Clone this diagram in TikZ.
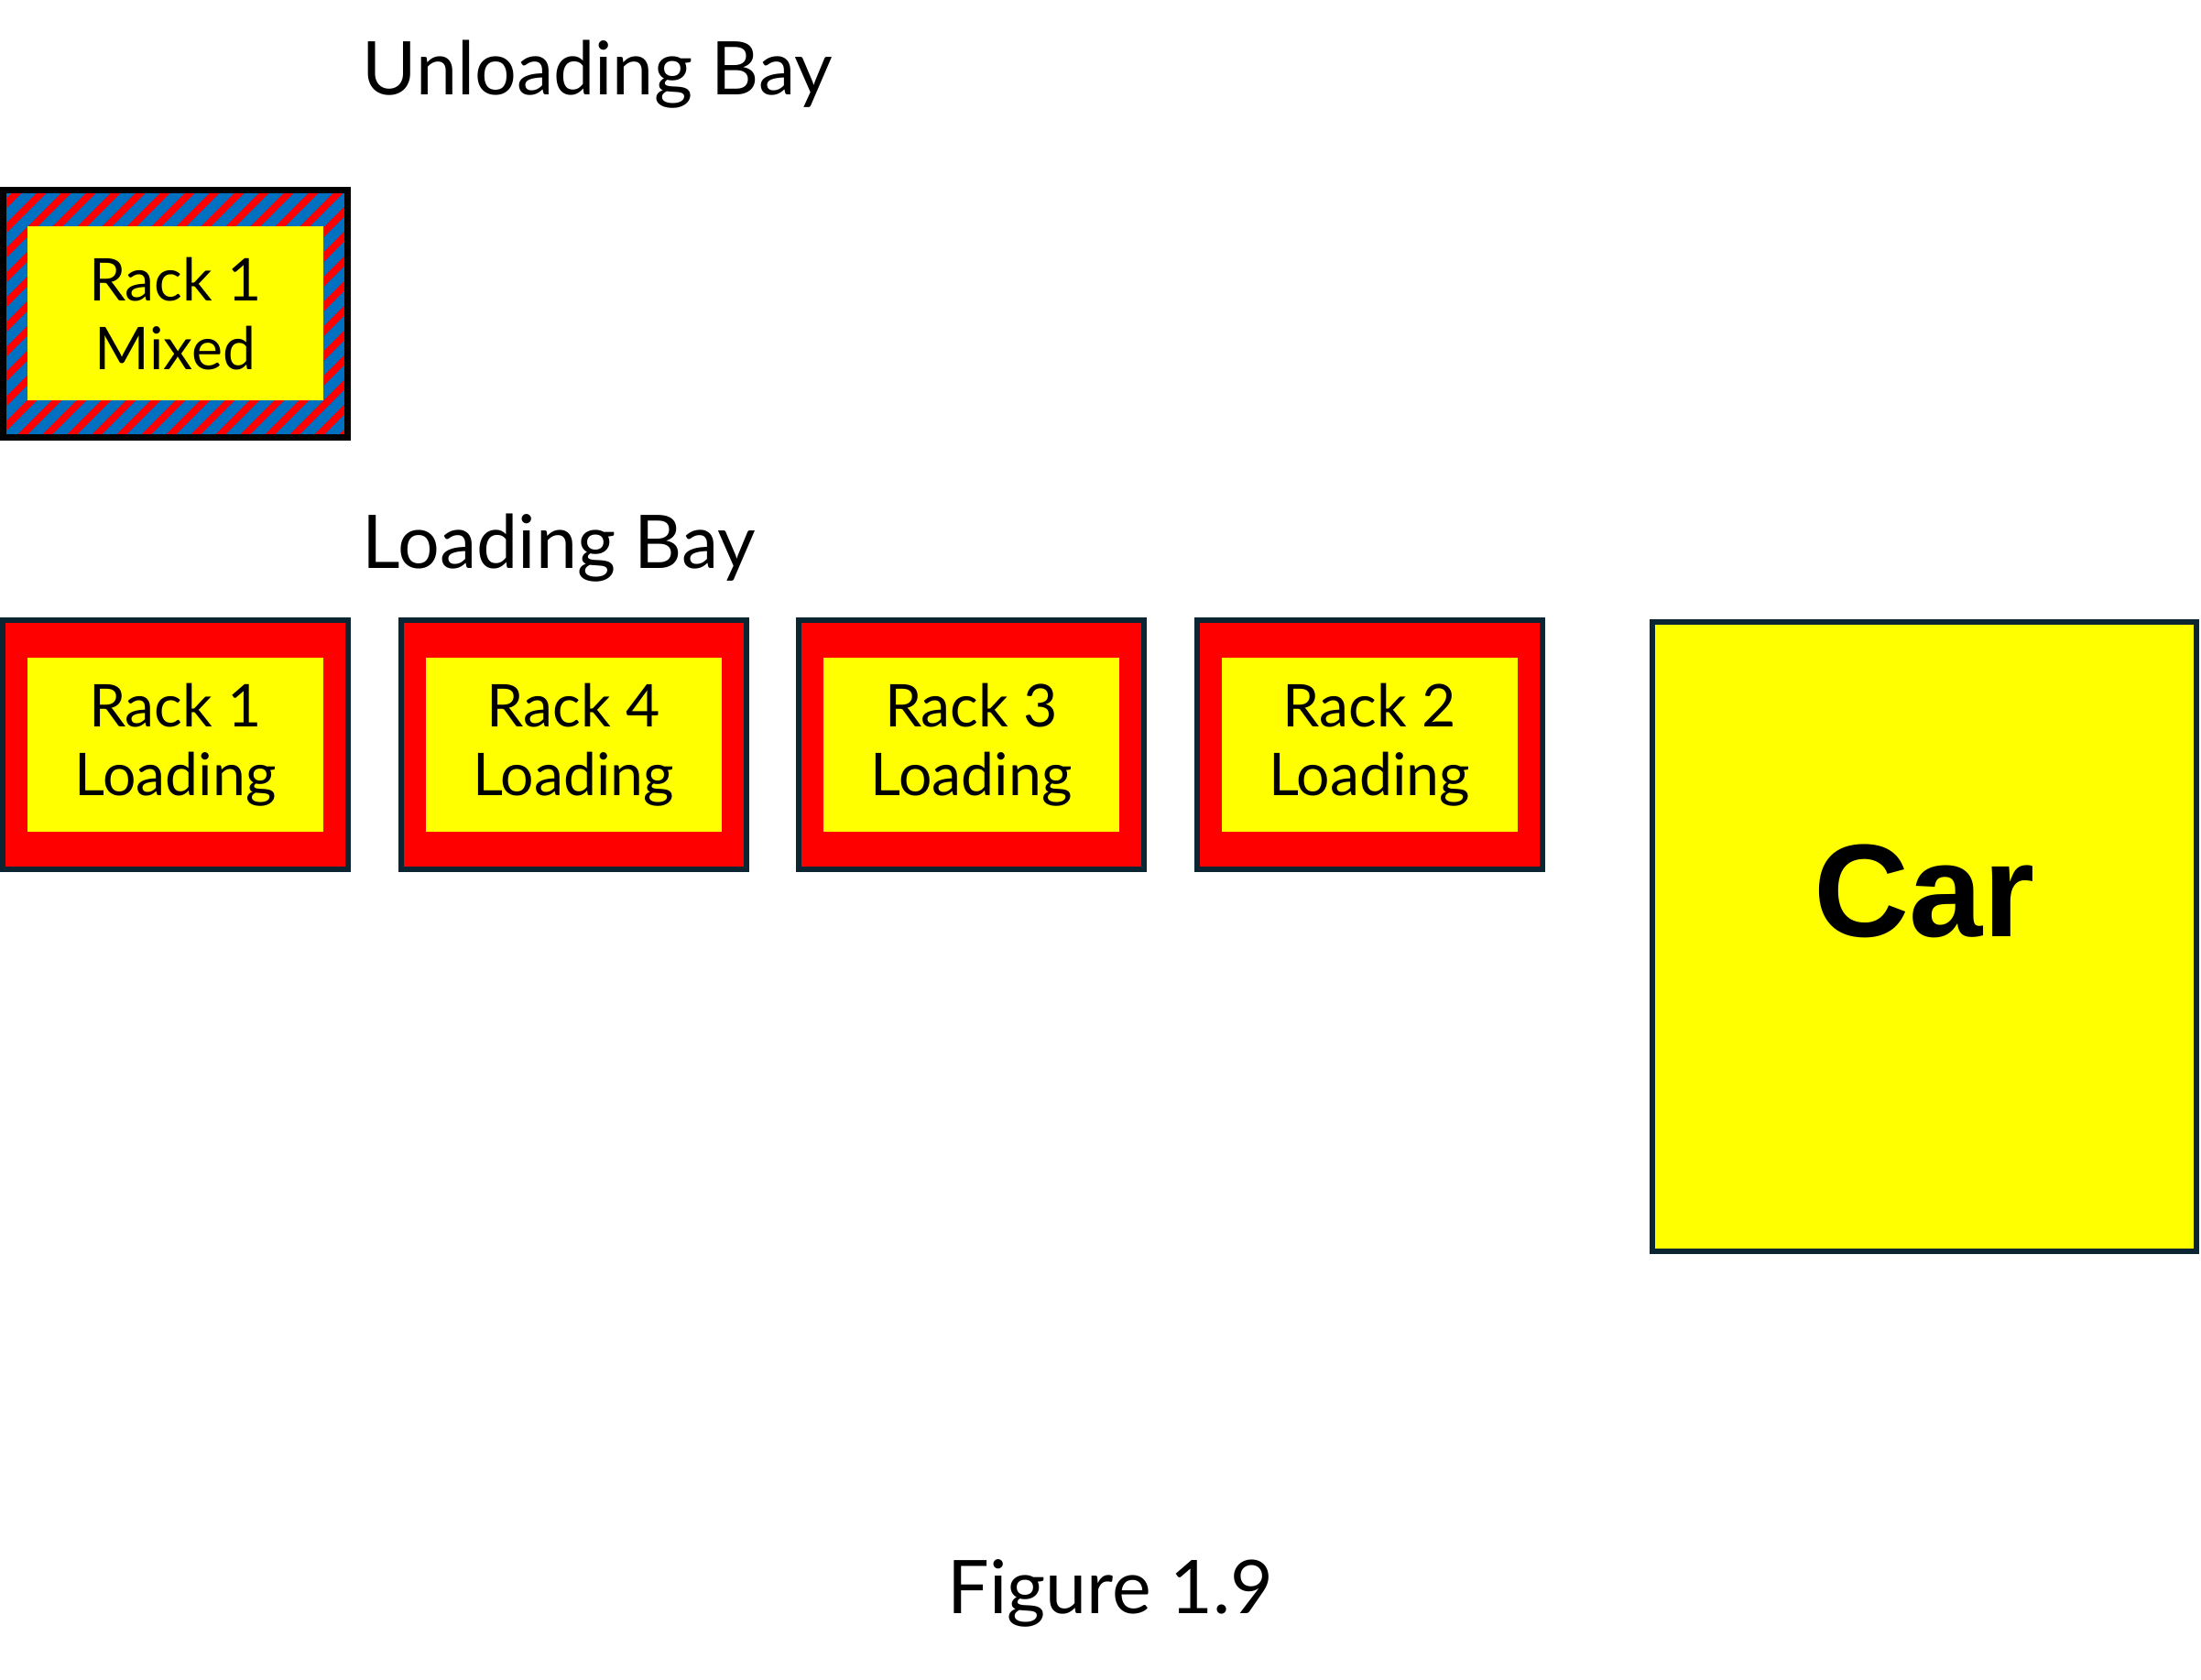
\documentclass[tikz,border=0pt]{standalone}
\usepackage{fontspec}
\setmainfont{Lato}
\newfontfamily\carfont{Liberation Sans}
\definecolor{rackred}{HTML}{FF0000}
\definecolor{rackyellow}{HTML}{FFFF00}
\definecolor{mixblue}{HTML}{0070C0}
\definecolor{edgenavy}{HTML}{0C2533}
\begin{document}
\begin{tikzpicture}[
  rackout/.style={rectangle,draw=edgenavy,fill=rackred,line width=0.06cm,minimum width=3.77cm,minimum height=2.72cm,outer sep=0pt,inner sep=0pt},
  rackin/.style={rectangle,fill=rackyellow,minimum width=3.23cm,minimum height=1.90cm,align=center,inner sep=0pt,font=\fontsize{18.3}{21.3}\selectfont},
  bay/.style={inner sep=0pt,font=\fontsize{23}{27}\selectfont}]
\useasboundingbox (0,0) rectangle (24.03,18.34);
%\draw[step=1cm,lightgray,very thin] (0,0) grid (24,18);

\node[bay,anchor=base west] (unload) at (3.95,17.30) {Unloading Bay};

\node[rectangle,fill=mixblue,minimum width=3.76cm,minimum height=2.70cm,outer sep=0pt,inner sep=0pt] (mixout) at (1.915,14.915) {};
\begin{scope}
\clip (mixout.south west) rectangle (mixout.north east);
\foreach \k in {-12,...,15}
  \draw[rackred,line width=0.075cm] ({0.05+0.27*\k},13.4) -- ++(3.1,3.1);
\end{scope}
\draw[black,line width=0.07cm] (mixout.south west) rectangle (mixout.north east);
\node[rackin] (mixin) at (mixout.center) {Rack 1\\Mixed};

\node[bay,anchor=base west] (load) at (3.95,12.13) {Loading Bay};

\node[rackout] (rackA) at (1.915,10.21) {};
\node[rackin] (rackAtxt) at (rackA.center) {Rack 1\\Loading};

\node[rackout] (rackB) at (6.26,10.21) {};
\node[rackin] (rackBtxt) at (rackB.center) {Rack 4\\Loading};

\node[rackout] (rackC) at (10.605,10.21) {};
\node[rackin] (rackCtxt) at (rackC.center) {Rack 3\\Loading};

\node[rackout] (rackD) at (14.95,10.21) {};
\node[rackin] (rackDtxt) at (rackD.center) {Rack 2\\Loading};

\node[rectangle,draw=edgenavy,fill=rackyellow,line width=0.06cm,minimum width=5.94cm,minimum height=6.87cm,outer sep=0pt] (car) at (21.01,8.115) {};
\node[anchor=base,inner sep=0pt,font=\carfont\bfseries\fontsize{41}{45}\selectfont] (cartxt) at (car.center) {Car};

\node[bay,anchor=base] (fig) at (12.125,0.72) {Figure 1.9};

\end{tikzpicture}
\end{document}
